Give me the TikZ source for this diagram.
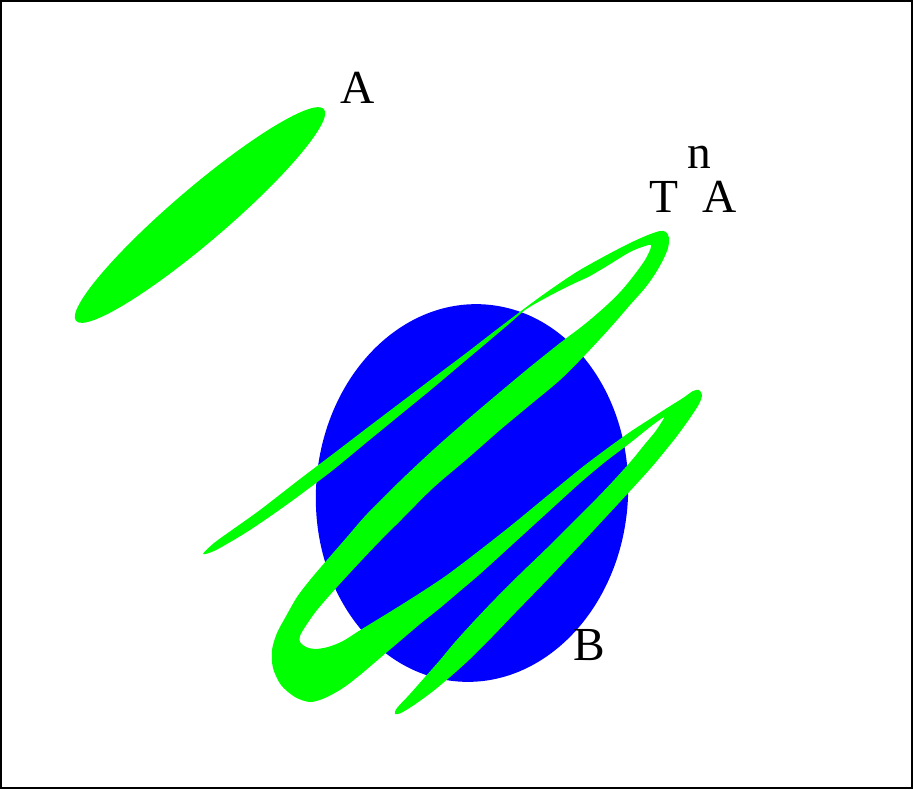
\documentclass[tikz,border=0pt]{standalone}
\usepackage{fontspec}
\setmainfont{Liberation Serif}
\definecolor{setgreen}{RGB}{0,255,0}
\definecolor{setblue}{RGB}{0,0,255}

\begin{document}
\begin{tikzpicture}[x=0.02cm, y=-0.02cm,
    lab/.style={font=\fontsize{27}{32}\selectfont, anchor=base, inner sep=0pt}]
  \useasboundingbox (0,0) rectangle (913,789);

  % ---- Frame ----
  \draw[line width=0.8pt] (1,1) rectangle (912,788);

  % ---- Set A ----
  \fill[setgreen, rotate around={40.5:(200,215)}] (200,215) ellipse [x radius=163, y radius=27];

  % ---- Set B ----
  \fill[setblue, rotate around={-4:(472,493)}] (472,493) ellipse [x radius=156, y radius=189];

  % ---- Image T^n A (folded band) ----
  \fill[setgreen] plot[smooth cycle, tension=0.5] coordinates {
    % arm 1, outer edge
    (203,554) (214,543) (232,530) (260,510) (300,479) (333,454) (367,428)
    (400,403) (433,378) (465,354) (500,327) (540,297) (575,273) (605,256)
    (630,243) (648,235)
    % fold 1
    (660,231) (666,232) (669,238) (668,248) (663,260)
    % arm 2, lower edge
    (655,274) (645,288) (630,305) (610,328) (585,355) (560,380) (530,405)
    (500,430) (467,459) (433,488) (400,521) (380,541) (360,562) (337,587)
    (317,610) (305,627) (300,636)
    % arm 3, upper edge
    (300,642) (306,647) (315,649) (328,647) (343,641) (362,629) (393,610)
    (420,593) (447,575) (480,550) (513,524) (547,496) (580,469) (605,450)
    (630,432) (650,419) (667,408) (683,398) (693,391)
    % fold 3
    (699,390) (702,395) (699,404) (690,418) (677,436)
    % arm 4, lower edge
    (665,451) (650,469) (630,491) (605,518) (580,545) (548,579) (515,613)
    (492,637) (470,659) (450,677) (432,692) (414,705) (401,713) (395,714)
    % arm 4, upper edge
    (397,708) (410,694) (425,677) (440,660) (455,642) (475,620) (495,599)
    (520,574) (547,548) (572,523) (597,498) (615,479) (632,460) (645,444)
    (655,432) (661,423) (664,417)
    % arm 3, lower edge
    (650,427) (630,443) (605,462) (580,483) (547,513) (513,544) (480,574)
    (460,591) (440,608) (420,624) (400,641) (380,658) (360,675) (343,688)
    % fold 2
    (325,698) (310,702) (295,697) (281,685) (273,668) (272,650) (277,633)
    (285,618)
    % arm 2, upper edge
    (297,597) (310,580) (327,560) (347,537) (367,514) (400,481) (433,450)
    (467,420) (500,392) (530,367) (560,343) (585,324) (607,305) (622,290)
    (635,274) (645,260) (650,250) (651,245)
    % arm 1, inner edge
    (645,246) (630,252) (607,266) (590,276) (573,284) (555,293) (540,301)
    (525,310) (510,323) (490,340) (465,361) (433,388) (400,415) (367,442)
    (333,470) (300,495) (275,513) (250,530) (232,541) (214,551)
  };

  % ---- Labels ----
  \node[lab] (labA) at (358,103) {A};
  \node[lab] (labT) at (664,212) {T};
  \node[lab] (labN) at (699,168) {n};
  \node[lab] (labTA) at (720,212) {A};
  \node[lab] (labB) at (589,660) {B};
\end{tikzpicture}
\end{document}
